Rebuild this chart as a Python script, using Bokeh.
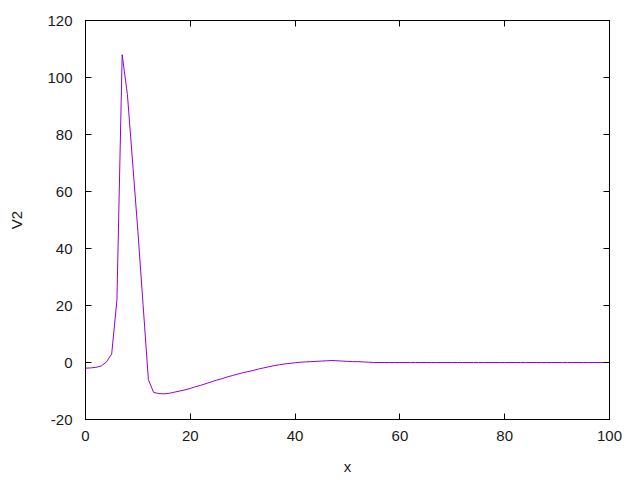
from bokeh.plotting import figure
from bokeh.models import LinearAxis, FixedTicker, Range1d
from bokeh.embed import file_html
from bokeh.resources import INLINE

x_vals = list(range(0, 101))
v2_head = [-2.0, -1.9, -1.7, -1.2, 0.2, 3.0, 22.0, 108.0, 94.0, 70.0,
           46.0, 20.0, -6.0, -10.5, -10.9, -11.0, -10.8, -10.4, -10.0, -9.6,
           -9.1, -8.5, -8.0, -7.4, -6.8, -6.2, -5.7, -5.1, -4.6, -4.1,
           -3.6, -3.2, -2.8, -2.3, -1.9, -1.5, -1.1, -0.8, -0.5, -0.3,
           -0.1, 0.1, 0.2, 0.3, 0.4, 0.5, 0.6, 0.7, 0.6, 0.5,
           0.4, 0.3, 0.3, 0.2, 0.1, 0.0]
v2_tail = [0.0] * (len(x_vals) - len(v2_head))
v2 = v2_head + v2_tail

x_ticks = [0, 20, 40, 60, 80, 100]
y_ticks = [-20, 0, 20, 40, 60, 80, 100, 120]
y_tick_labels = {t: str(t) for t in y_ticks}
x_tick_labels = {t: str(t) for t in x_ticks}

FONT = "Liberation Sans"
TXT = "#1a1a1a"

p = figure(frame_width=524, frame_height=399, output_backend="svg",
           toolbar_location=None,
           x_range=Range1d(0, 100), y_range=Range1d(-20, 120),
           min_border_left=85, min_border_right=21, min_border_top=20,
           min_border_bottom=51, x_axis_label="x", y_axis_label="V2")
p.xgrid.visible = False
p.ygrid.visible = False
p.outline_line_color = "black"
p.outline_line_alpha = 1.0

p.line(x_vals, v2, line_color="#9400d3", line_width=1)

def style(ax, ticks, labels):
    ax.ticker = FixedTicker(ticks=ticks)
    ax.major_tick_in = 6
    ax.major_tick_out = 0
    ax.minor_tick_line_color = None
    ax.axis_line_color = "black"
    ax.major_tick_line_color = "black"
    ax.major_label_text_font = FONT
    ax.major_label_text_color = TXT
    ax.major_label_text_font_size = "15px"
    ax.major_label_overrides = labels

style(p.xaxis[0], x_ticks, x_tick_labels)
style(p.yaxis[0], y_ticks, y_tick_labels)
p.xaxis[0].major_label_standoff = 11
p.yaxis[0].major_label_standoff = 13
for ax in (p.xaxis[0], p.yaxis[0]):
    ax.axis_label_text_font = FONT
    ax.axis_label_text_font_size = "15px"
    ax.axis_label_text_font_style = "normal"
    ax.axis_label_text_color = TXT
p.xaxis[0].axis_label_standoff = 14
p.yaxis[0].axis_label_standoff = 19

right = LinearAxis()
style(right, y_ticks, {t: "" for t in y_ticks})
right.major_label_standoff = 0
p.add_layout(right, "right")
top = LinearAxis()
style(top, x_ticks, {t: "" for t in x_ticks})
top.major_label_standoff = 0
p.add_layout(top, "above")

open("out.html", "w").write(file_html(p, INLINE))
